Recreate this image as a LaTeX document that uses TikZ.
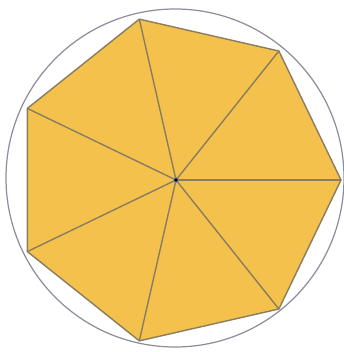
\documentclass[tikz,border=0pt]{standalone}
\usepackage{tikz}
\usetikzlibrary{calc}
\definecolor{heptfill}{HTML}{F4C24C}
\definecolor{spoke}{HTML}{8A7C5E}
\definecolor{rim}{HTML}{8C8E9C}

\begin{document}
\begin{tikzpicture}[
        x=0.02cm, y=-0.02cm,
        rim/.style={draw=rim, line width=0.7pt},
        face/.style={fill=heptfill, draw=spoke, line width=0.8pt, line join=round},
        spoke/.style={draw=spoke, line width=0.8pt}
    ]

        \useasboundingbox (0,0) rectangle (343,352);

        % Centre and corners
        \coordinate (c) at (176,180);
        \foreach \i in {0,...,6} {
            \coordinate (v\i) at ($(c)+({-\i*360/7}:165)$);
        }

        % Circle and heptagon
        \draw [rim] (175,178) circle (169);
        \path [face] (v0) -- (v1) -- (v2) -- (v3) -- (v4) -- (v5) -- (v6) -- cycle;

        % Spokes
        \foreach \i in {0,...,6} {
            \draw [spoke] (c) -- (v\i);
        }
        \fill [rim] (c) circle (2.5);

    \end{tikzpicture}
\end{document}
